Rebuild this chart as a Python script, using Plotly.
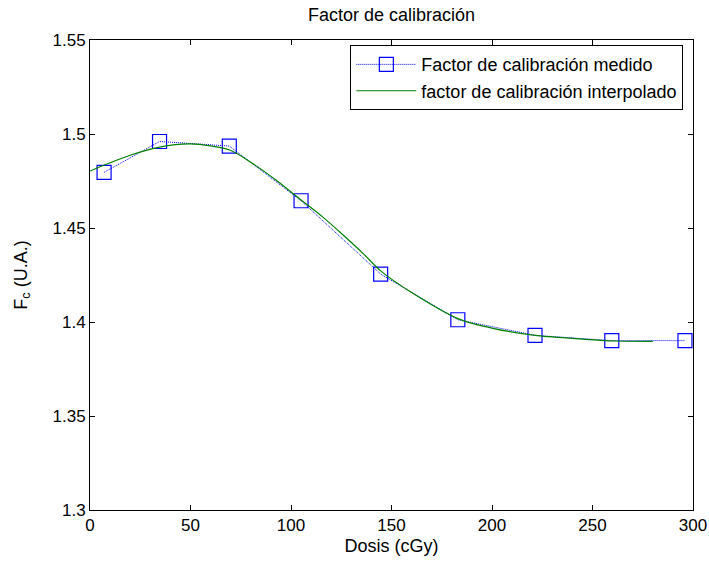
import plotly.graph_objects as go

# Measured calibration factor vs dose
dosis_medida = [7, 34.6, 69.3, 105, 144.6, 183, 221.4, 259.6, 296]
factor_medido = [1.4796, 1.496, 1.4936, 1.4645, 1.4255, 1.4012, 1.3929, 1.3901, 1.3901]

# Interpolated calibration factor curve
dosis_interp = [0, 10, 20, 34.6, 50, 69.5, 80.5, 92.5, 105, 115.7, 125.8, 135.9, 144.6, 161, 183, 201, 221.4, 241.5, 261.7, 280]
factor_interp = [1.4803, 1.4847, 1.4887, 1.493, 1.4947, 1.4915, 1.4846, 1.4755, 1.4649, 1.4559, 1.4464, 1.4364, 1.4272, 1.415, 1.4018, 1.3965, 1.3929, 1.3912, 1.3899, 1.3897]

x_ticks = [0, 50, 100, 150, 200, 250, 300]
y_ticks = [1.3, 1.35, 1.4, 1.45, 1.5, 1.55]
y_tick_text = ["1.3", "1.35", "1.4", "1.45", "1.5", "1.55"]

FONT = "Liberation Sans, Arial"
FS = 18
FS_TICK = 17

fig = go.Figure()
fig.add_trace(go.Scatter(
    x=dosis_medida, y=factor_medido, mode="lines+markers",
    name="Factor de calibración medido",
    line=dict(color="#0000FF", width=1, dash="1px,1px"),
    marker=dict(symbol="square-open", size=14, color="#0000FF", line=dict(width=1.2)),
))
fig.add_trace(go.Scatter(
    x=dosis_interp, y=factor_interp, mode="lines",
    name="factor de calibración interpolado",
    line=dict(color="#008000", width=1.2, shape="spline", smoothing=0.8),
))

axis_common = dict(
    showgrid=False, zeroline=False, showline=True, linecolor="black", linewidth=1,
    mirror="ticks", ticks="inside", ticklen=5, tickcolor="black", automargin=False,
    ticklabeloverflow="allow",
    tickfont=dict(family=FONT, size=FS_TICK, color="black"),
)

fig.update_layout(
    width=709, height=563,
    margin=dict(l=90, r=16, t=40, b=53),
    paper_bgcolor="white", plot_bgcolor="white",
    font=dict(family=FONT, size=FS, color="black"),
    title=dict(text="Factor de calibración", x=0.5, xref="paper", xanchor="center",
               y=1 - 15 / 563, yref="container", yanchor="middle", font=dict(size=FS)),
    xaxis=dict(range=[0, 300], tickvals=x_ticks,
               title=dict(text="Dosis (cGy)", standoff=4, font=dict(size=FS)), **axis_common),
    yaxis=dict(range=[1.3, 1.55], tickvals=y_ticks, ticktext=y_tick_text,
               title=dict(text="F<sub>c</sub> (U.A.)", standoff=20, font=dict(size=FS)), **axis_common),
    legend=dict(x=0.984, y=0.989, xanchor="right", yanchor="top",
                bgcolor="white", bordercolor="black", borderwidth=1,
                font=dict(size=FS), itemwidth=60, tracegroupgap=0),
    showlegend=True,
)

fig.write_html("out.html")
